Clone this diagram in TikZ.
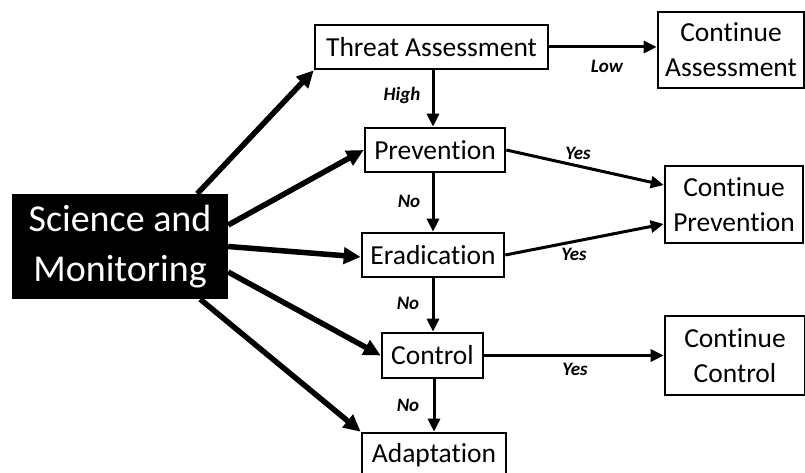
\documentclass[tikz,border=0pt]{standalone}
\usepackage{fontspec}
\setmainfont[Ligatures=NoCommon]{Carlito}
\usetikzlibrary{arrows.meta,calc}
\begin{document}
\begin{tikzpicture}[x=1pt,y={(0pt,-1pt)},
  box/.style={draw=black,line width=2.6pt,fill=white,inner sep=0pt,align=center,
    font=\fontsize{27.5}{35}\selectfont},
  smbox/.style={fill=black,text=white,inner sep=0pt,align=center,
    font=\fontsize{38}{50}\selectfont},
  lbl/.style={font=\fontsize{19}{22}\selectfont\bfseries\itshape,inner sep=0pt},
  thin/.style={line width=3pt,-{Triangle[length=13pt,width=12pt]}},
  thick/.style={line width=5.5pt,-{Triangle[length=17pt,width=16pt]}}]
\useasboundingbox (0,0) rectangle (805,473);
\fill[white] (0,0) rectangle (805,473);
\node[box,minimum width=233pt,minimum height=44pt] (ta) at (431.5,47) {Threat Assessment};
\node[box,minimum width=146pt,minimum height=76pt] (ca) at (731,50) {Continue\\Assessment};
\node[box,minimum width=140pt,minimum height=44pt] (pr) at (435,150) {Prevention};
\node[box,minimum width=142pt,minimum height=44pt] (er) at (433,255) {Eradication};
\node[box,minimum width=138pt,minimum height=77pt] (cp) at (734,204.5) {Continue\\Prevention};
\node[box,minimum width=101pt,minimum height=45pt] (co) at (432.5,355.5) {Control};
\node[box,minimum width=140pt,minimum height=79pt] (cc) at (735,355.5) {Continue\\Control};
\node[box,minimum width=144pt,minimum height=44pt] (ad) at (434,455) {Adaptation};
\node[smbox,minimum width=216pt,minimum height=105pt] (sm) at (120,246.5) {Science and\\Monitoring};
% connectors
\draw[thin] (ta.south -| 433,0) -- (pr.north -| 433,0);
\draw[thin] (er.south -| 433,0) -- (co.north -| 433,0);
\draw[thin] (pr.south -| 433,0) -- (er.north -| 433,0);
\draw[thin] (co.south -| 434,0) -- (ad.north -| 434,0);
\draw[thin] (ta.east) -- (ta.east -| ca.west);
\draw[thin] (co.east) -- (co.east -| cc.west);
\draw[thin] (pr.east) -- ([yshift=19.5pt]cp.west);
\draw[thin] (er.east) -- ([yshift=-19.5pt]cp.west);
\draw[thick] ([xshift=-31pt]sm.north east) -- (ta.south west);
\draw[thick] ([yshift=21.5pt]sm.east) -- (pr.west);
\draw[thick] (sm.east) -- ([yshift=-2pt]er.west);
\draw[thick] ([yshift=-25.5pt]sm.east) -- (co.west);
\draw[thick] ([xshift=-28pt]sm.south east) -- (ad.north west);
% labels
\node[lbl] (lLow) at (607,66) {Low};
\node[lbl] (lHigh) at (402,95) {High};
\node[lbl] (lYes1) at (578,153) {Yes};
\node[lbl] (lYes2) at (574,254) {Yes};
\node[lbl] (lNo1) at (409,201) {No};
\node[lbl] (lYes3) at (575,369) {Yes};
\node[lbl] (lNo2) at (408,303) {No};
\node[lbl] (lNo3) at (408,405) {No};
\end{tikzpicture}
\end{document}
